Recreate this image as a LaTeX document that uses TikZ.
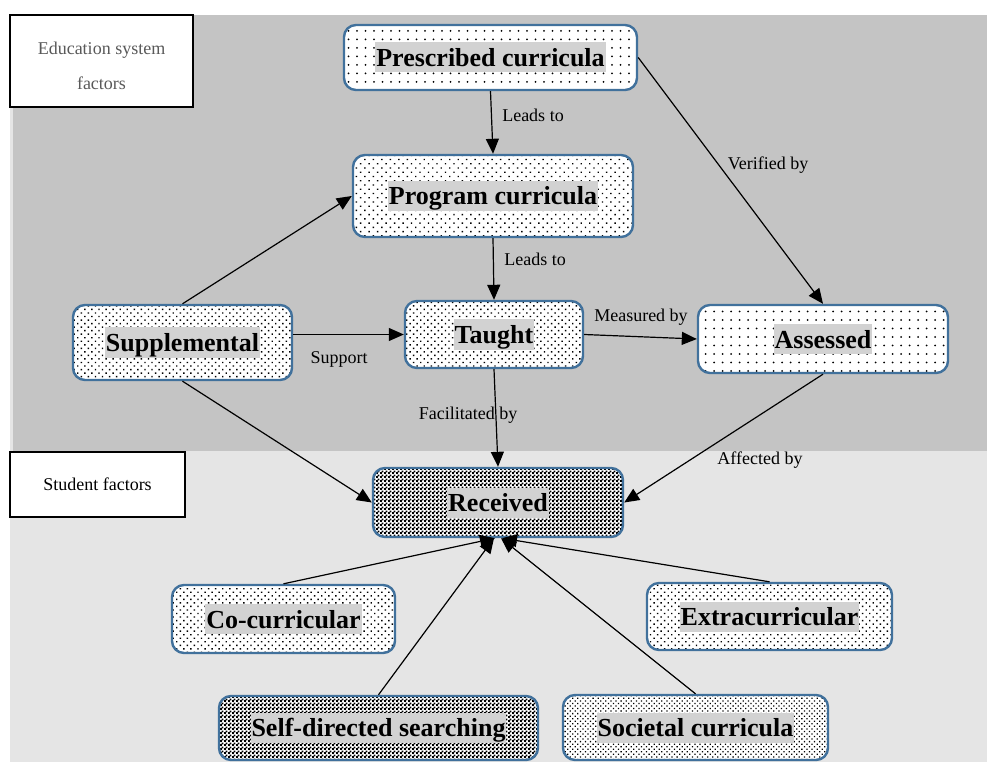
\documentclass[tikz,border=0pt]{standalone}
\usepackage{fontspec}
\setmainfont{Liberation Serif}
\usetikzlibrary{arrows.meta,patterns.meta}

\definecolor{bgdark}{HTML}{C4C4C4}
\definecolor{bglight}{HTML}{E5E5E5}
\definecolor{boxblue}{HTML}{41719C}
\definecolor{hlgray}{HTML}{D2D2D2}
\definecolor{labgray}{HTML}{595959}

% fine checker fill for the dark boxes
\pgfdeclarepattern{
  name=finechecker,
  type=uncolored,
  bottom left={\pgfpointorigin},
  top right={\pgfpoint{4pt}{4pt}},
  tile size={\pgfpoint{4pt}{4pt}},
  code={
    \pgfpathrectangle{\pgfpointorigin}{\pgfpoint{2.3pt}{2.3pt}}
    \pgfpathrectangle{\pgfpoint{2pt}{2pt}}{\pgfpoint{2.3pt}{2.3pt}}
    \pgfusepath{fill}
  }
}

% grey highlight behind the box texts
\newcommand{\hlbox}[1]{{\setlength{\fboxsep}{1pt}\colorbox{hlgray}{\rule[-5pt]{0pt}{28pt}#1}}}

\begin{document}
\begin{tikzpicture}[x=1pt,y=-1pt,
    box/.style={draw=boxblue, line width=2.4pt, rounded corners=12pt,
      preaction={fill=white}, inner sep=0pt,
      font=\fontsize{26}{30}\selectfont\bfseries},
    sparsedots/.style={pattern={Dots[distance=8.5pt,radius=1pt]}},
    middots/.style={pattern={Dots[angle=45,distance=6pt,radius=1pt]}},
    densedots/.style={pattern={Dots[angle=45,distance=5pt,radius=1pt]}},
    finedots/.style={pattern={Dots[angle=45,distance=3.6pt,radius=0.9pt]}},
    darkfill/.style={pattern=finechecker},
    factorbox/.style={draw=black, line width=1.2pt, fill=white,
      minimum width=183pt},
    factortext/.style={align=center, inner sep=0pt, font=\fontsize{18}{35}\selectfont},
    arr/.style={line width=1.2pt, -{Triangle[length=15pt,width=13pt]}},
    lbl/.style={inner sep=0pt, font=\fontsize{18}{20}\selectfont}]
    \useasboundingbox (0,0) rectangle (987,762);

    % Fundos das duas zonas
    \fill[bglight] (10,15) rectangle (987,762);
    \fill[bgdark] (13,15) rectangle (987,451);

    \node[factorbox, minimum height=92pt] (edubox) at (101.5,61) {};
    \node[factortext, text=labgray] (edutext) at (101.5,66) {Education system\\factors};
    \node[factorbox, minimum width=175pt, minimum height=65pt] (stubox) at (97.5,484.5) {};
    \node[factortext] (stutext) at (97.5,484) {Student factors};

    % Caixas
    \node[box, sparsedots, minimum width=293pt, minimum height=65pt] (pres) at (490.5,57.5) {\hlbox{Prescribed curricula}};
    \node[box, middots, minimum width=280pt, minimum height=82pt] (prog) at (493,196) {\hlbox{Program curricula}};
    \node[box, densedots, minimum width=219pt, minimum height=75pt] (sup) at (182.5,342.5) {\hlbox{Supplemental}};
    \node[box, densedots, minimum width=178pt, minimum height=67pt] (taught) at (494,334.5) {\hlbox{Taught}};
    \node[box, sparsedots, minimum width=250pt, minimum height=68pt] (assess) at (823,339) {\hlbox{Assessed}};
    \node[box, darkfill, minimum width=250pt, minimum height=69pt] (rec) at (498,502.5) {\hlbox{Received}};
    \node[box, densedots, minimum width=223pt, minimum height=68pt] (cocur) at (283.5,619) {\hlbox{Co-curricular}};
    \node[box, densedots, minimum width=245pt, minimum height=67pt] (ext) at (769.5,616.5) {\hlbox{Extracurricular}};
    \node[box, darkfill, minimum width=319pt, minimum height=64pt] (self) at (378.5,728) {\hlbox{Self-directed searching}};
    \node[box, finedots, minimum width=265pt, minimum height=65pt] (soc) at (695.5,727.5) {\hlbox{Societal curricula}};

    % Ligações
    \draw[arr] (pres.south) -- (prog.north);
    \draw[arr] (prog.south) -- (taught.north);
    \draw[arr] (pres.east) -- (assess.north);
    \draw[arr] (sup.north) -- (prog.west);
    \draw[arr] (sup.east |- taught.west) -- (taught.west);
    \draw[arr] (taught.east) -- (assess.west);
    \draw[arr] (sup.south) -- (rec.west);
    \draw[arr] (taught.south) -- (rec.north);
    \draw[arr] (assess.south) -- (rec.east);
    \draw[arr] (cocur.north) -- ([xshift=-3pt]rec.south);
    \draw[arr] (self.north) -- ([xshift=-4pt]rec.south);
    \draw[arr] (ext.north) -- ([xshift=4pt]rec.south);
    \draw[arr] (soc.north) -- ([xshift=3pt]rec.south);

    % Rótulos
    \node[lbl] (leads1) at (533,115) {Leads to};
    \node[lbl] (leads2) at (535,259) {Leads to};
    \node[lbl] (verif) at (768,165) {Verified by};
    \node[lbl] (meas) at (641,317) {Measured by};
    \node[lbl] (supp) at (339,359) {Support};
    \node[lbl] (facil) at (468,415) {Facilitated by};
    \node[lbl] (affect) at (760,460) {Affected by};
\end{tikzpicture}
\end{document}
